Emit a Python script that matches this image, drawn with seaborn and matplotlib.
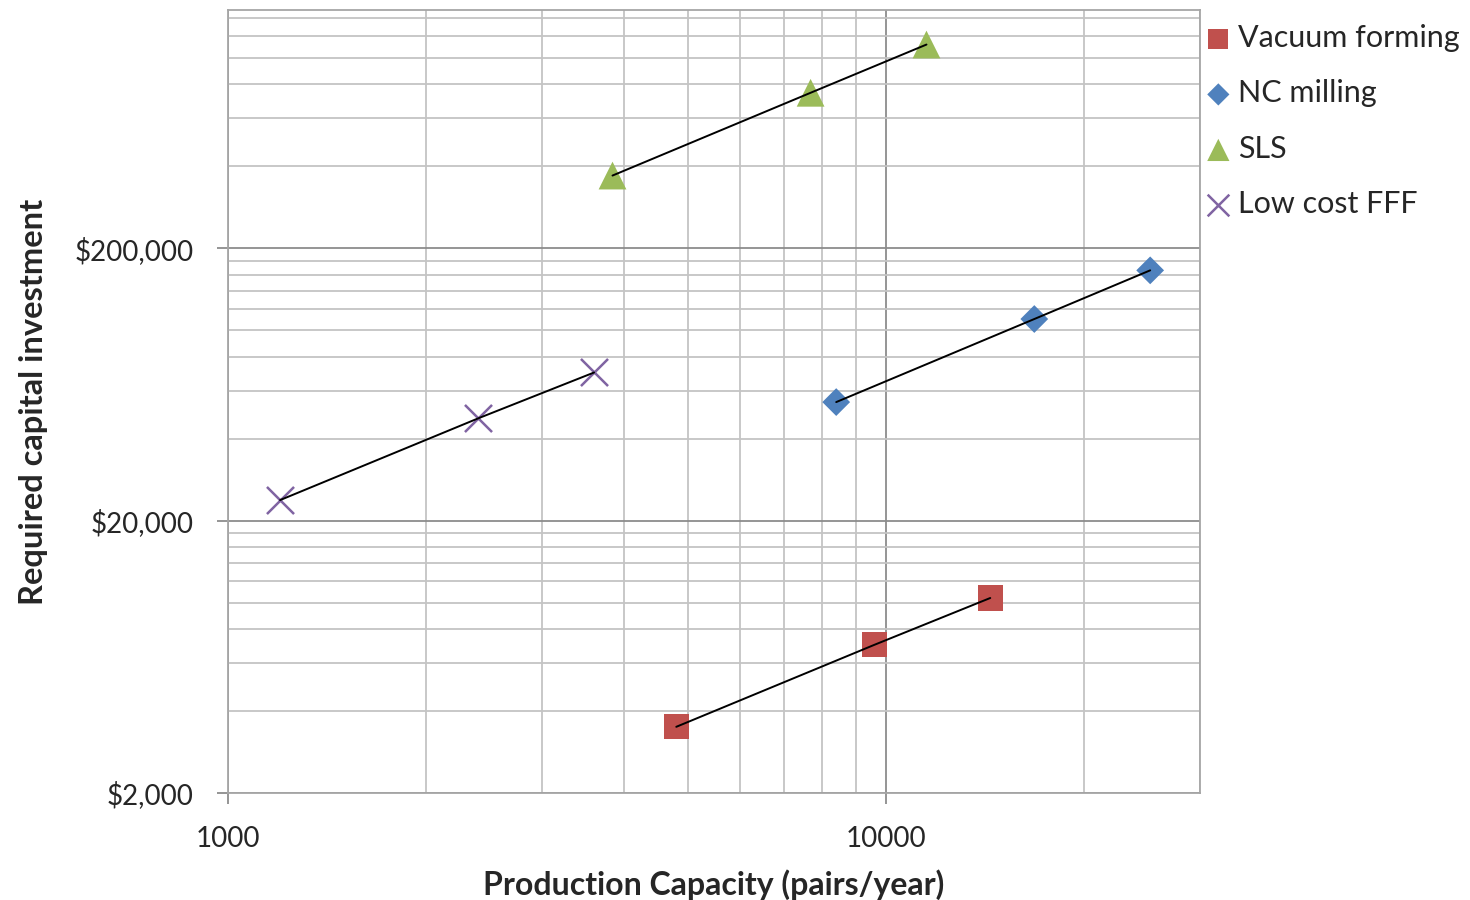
import numpy as np
import pandas as pd
import matplotlib
matplotlib.use('Agg')
import matplotlib.pyplot as plt
import matplotlib.ticker as mticker
import seaborn as sns

# values (pairs/year, $)
series_names = ['Vacuum forming', 'NC milling', 'SLS', 'Low cost FFF']
vacuum_x = [4800, 9600, 14400]
vacuum_y = [3500, 7000, 10400]
nc_x = [8400, 16800, 25200]
nc_y = [54500, 110000, 166000]
sls_x = [3840, 7680, 11520]
sls_y = [370000, 745000, 1120000]
fff_x = [1200, 2400, 3600]
fff_y = [23800, 47500, 70000]

x_ticks = [1000, 10000]
y_ticks = [2000, 20000, 200000]

colors = {'Vacuum forming': '#C0504D', 'NC milling': '#4F81BD',
          'SLS': '#9BBB59', 'Low cost FFF': '#8064A2'}
markers = {'Vacuum forming': 's', 'NC milling': 'D', 'SLS': '^', 'Low cost FFF': 'x'}
sizes = {'Vacuum forming': 330, 'NC milling': 200, 'SLS': 400, 'Low cost FFF': 380}

sns.set_style('white')
plt.rcParams['font.family'] = ['Lato', 'DejaVu Sans']

fig = plt.figure(figsize=(14.7, 9), dpi=100)
ax = fig.add_axes([228 / 1470, 1 - 793 / 900, (1200 - 228) / 1470, (793 - 10) / 900])
ax.set_xscale('log')
ax.set_yscale('log')

data = {'Vacuum forming': (vacuum_x, vacuum_y), 'NC milling': (nc_x, nc_y),
        'SLS': (sls_x, sls_y), 'Low cost FFF': (fff_x, fff_y)}

for name in series_names:
    xs, ys = data[name]
    if markers[name] == 'x':
        sns.scatterplot(x=xs, y=ys, marker='x', color=colors[name], s=sizes[name],
                        linewidth=1.8, label=name, ax=ax, zorder=3)
    else:
        sns.scatterplot(x=xs, y=ys, marker=markers[name], color=colors[name], s=sizes[name],
                        edgecolor='none', label=name, ax=ax, zorder=3)
    sns.lineplot(x=xs, y=ys, color='black', linewidth=1.4, estimator=None,
                 sort=False, legend=False, ax=ax, zorder=4)

ax.set_xlim(1000, 30000)
ax.set_ylim(2000, 1500000)

# major ticks and gridlines
ax.xaxis.set_major_locator(mticker.FixedLocator(x_ticks))
ax.xaxis.set_major_formatter(mticker.FixedFormatter([str(v) for v in x_ticks]))
ax.yaxis.set_major_locator(mticker.FixedLocator(y_ticks))
ax.yaxis.set_major_formatter(mticker.FixedFormatter(['${:,}'.format(v) for v in y_ticks]))

x_minor = [m * 10 ** d for d in (3, 4) for m in range(2, 10)]
y_minor = [m * 2000 * 10 ** d for d in (0, 1, 2) for m in range(2, 10)]
ax.xaxis.set_minor_locator(mticker.FixedLocator(x_minor))
ax.yaxis.set_minor_locator(mticker.FixedLocator(y_minor))
ax.xaxis.set_minor_formatter(mticker.NullFormatter())
ax.yaxis.set_minor_formatter(mticker.NullFormatter())

ax.grid(True, which='major', color='#8c8c8c', linewidth=1.3)
ax.grid(True, which='minor', color='#c4c4c4', linewidth=1.3)
ax.set_axisbelow(True)

ax.tick_params(axis='both', which='major', direction='out', length=8, width=1.3,
               color='#8c8c8c', labelsize=20, left=True, bottom=True)
ax.tick_params(axis='y', which='major', pad=17)
ax.tick_params(axis='x', which='major', pad=16)
ax.tick_params(axis='both', which='minor', length=0)
for sp in ax.spines.values():
    sp.set_color('#a6a6a6')
    sp.set_linewidth(1.3)

ax.set_xlabel('Production Capacity (pairs/year)', fontsize=23, fontweight='bold', labelpad=12)
ax.set_ylabel('Required capital investment', fontsize=23.5, fontweight='bold', labelpad=19)

leg = ax.legend(loc='upper left', bbox_to_anchor=(1.0, 0.99), frameon=False, fontsize=22,
                handlelength=0.8, handletextpad=0.25, labelspacing=0.9, borderaxespad=0.0,
                borderpad=0.2, markerscale=0.8)

fig.savefig('out.png', dpi=100)
